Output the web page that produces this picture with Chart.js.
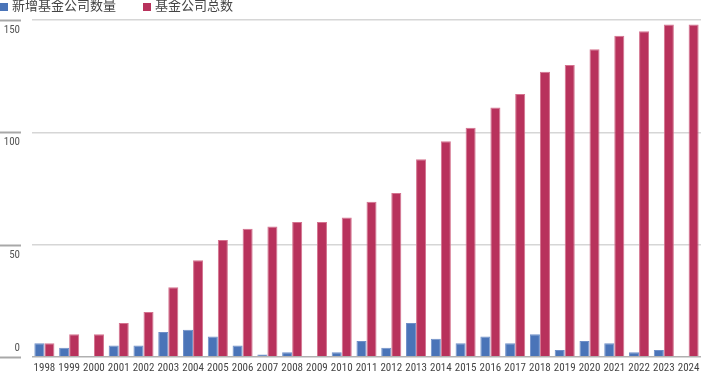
<!DOCTYPE html>
<html>
<head>
<meta charset="utf-8">
<script src="https://cdn.jsdelivr.net/npm/chart.js@4/dist/chart.umd.min.js"></script>
<style>
  html, body { margin: 0; padding: 0; background: #fff; }
  #wrap { position: relative; width: 713px; height: 381px; }
</style>
</head>
<body>
<div id="wrap"><canvas id="chart" width="713" height="381"></canvas></div>
<script>
// 年份
const years = ['1998', '1999', '2000', '2001', '2002', '2003', '2004', '2005', '2006',
  '2007', '2008', '2009', '2010', '2011', '2012', '2013', '2014', '2015', '2016',
  '2017', '2018', '2019', '2020', '2021', '2022', '2023', '2024'];

// 新增基金公司数量
const newCompanies = [6, 4, 0, 5, 5, 11, 12, 9, 5, 1, 2, 0, 2, 7, 4, 15, 8, 6, 9, 6, 10, 3, 7, 6, 2, 3, 0];

// 基金公司总数
const totalCompanies = [6, 10, 10, 15, 20, 31, 43, 52, 57, 58, 60, 60, 62, 69, 73, 88, 96, 102, 111, 117, 127, 130, 137, 143, 145, 148, 148];

// y 轴刻度
const yTicks = [0, 50, 100, 150];

const seriesNames = ['新增基金公司数量', '基金公司总数'];
const seriesColors = ['#4a74b8', '#b8325c'];

const narrow = "'Liberation Sans Narrow', 'Roboto Condensed', 'Noto Sans CJK SC', sans-serif";

// 左侧刻度短线和数字
const yLabelPlugin = {
  id: 'yLabels',
  afterDraw(chart) {
    const ctx = chart.ctx;
    const y = chart.scales.y;
    ctx.save();
    yTicks.forEach(v => {
      const py = Math.round(y.getPixelForValue(v)) + 0.5;
      ctx.strokeStyle = '#a8a8a8';
      ctx.lineWidth = 2;
      ctx.beginPath();
      ctx.moveTo(0, py);
      ctx.lineTo(21, py);
      ctx.stroke();
      ctx.fillStyle = '#555';
      ctx.font = '11px ' + narrow;
      ctx.textAlign = 'right';
      ctx.textBaseline = 'middle';
      ctx.fillText(String(v), 20, v === 0 ? py - 9 : py + 10);
    });
    ctx.restore();
  }
};

// 图例
const legendPlugin = {
  id: 'topLegend',
  afterDraw(chart) {
    const ctx = chart.ctx;
    ctx.save();
    ctx.font = '13px ' + narrow;
    ctx.textBaseline = 'middle';
    ctx.textAlign = 'left';
    let x = 0;
    seriesNames.forEach((name, i) => {
      ctx.fillStyle = seriesColors[i];
      ctx.fillRect(x, 3, 8, 8);
      ctx.fillStyle = '#444';
      ctx.fillText(name, x + 12, 7);
      x += 12 + ctx.measureText(name).width + 27;
    });
    ctx.restore();
  }
};

new Chart(document.getElementById('chart'), {
  type: 'bar',
  data: {
    labels: years,
    datasets: [
      {
        label: seriesNames[0],
        data: newCompanies,
        backgroundColor: seriesColors[0],
        borderColor: '#6f8fc8',
        borderWidth: 1,
        categoryPercentage: 0.81,
        barPercentage: 1.0
      },
      {
        label: seriesNames[1],
        data: totalCompanies,
        backgroundColor: seriesColors[1],
        borderColor: '#d4738f',
        borderWidth: 1,
        categoryPercentage: 0.81,
        barPercentage: 1.0
      }
    ]
  },
  options: {
    responsive: false,
    animation: false,
    layout: { padding: { top: 20, left: 32, right: 12, bottom: 1 } },
    plugins: {
      legend: { display: false },
      tooltip: { enabled: false }
    },
    scales: {
      x: {
        grid: { display: false, drawTicks: false, tickLength: 0 },
        border: { display: false },
        ticks: {
          color: '#444',
          font: { size: 11, family: narrow },
          maxRotation: 0,
          autoSkip: false,
          padding: 5
        }
      },
      y: {
        min: 0,
        max: 150,
        ticks: { display: false, stepSize: 50 },
        border: { display: false },
        grid: {
          drawTicks: false,
          lineWidth: 1.5,
          color: ctx => ctx.tick && ctx.tick.value === 0 ? '#b0b0b0' : '#d6d6d6'
        }
      }
    }
  },
  plugins: [yLabelPlugin, legendPlugin]
});
</script>
</body>
</html>
